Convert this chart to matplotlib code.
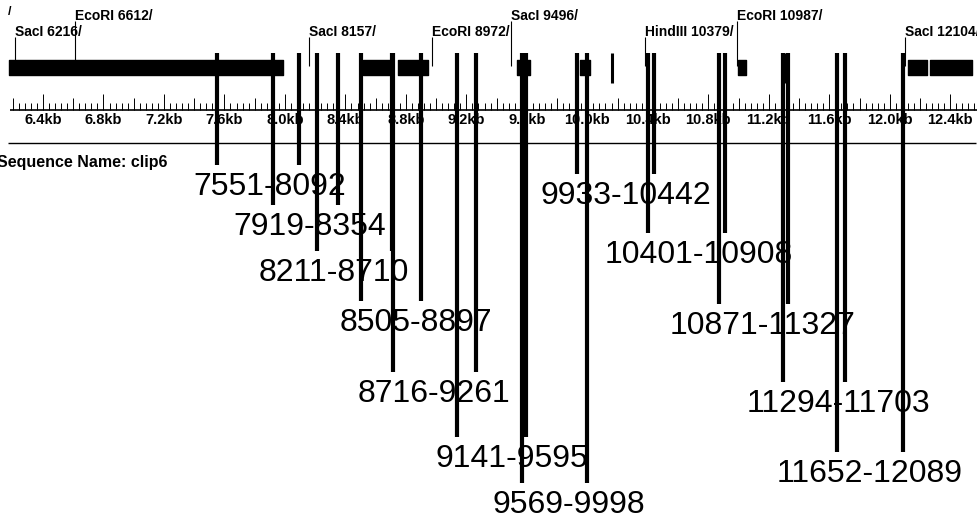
import matplotlib.pyplot as plt
import numpy as np

plt.rcParams['font.family'] = ['Liberation Sans', 'DejaVu Sans']

# fragments (bp) shown as start-end labels
frag_start = [7551, 7919, 8211, 8505, 8716, 9141, 9569, 9933, 10401, 10871, 11294, 11652]
frag_end = [8092, 8354, 8710, 8897, 9261, 9595, 9998, 10442, 10908, 11327, 11703, 12089]

# restriction sites
site_enzyme = ["SacI", "EcoRI", "SacI", "EcoRI", "SacI", "HindIII", "EcoRI", "SacI"]
site_pos = [6216, 6612, 8157, 8972, 9496, 10379, 10987, 12104]

# black feature blocks on the map track (bp)
feat_start = [6177, 8516, 8748, 9535, 9951, 10996, 12121, 12267]
feat_end = [7985, 8715, 8946, 9621, 10018, 11050, 12246, 12545]

# single marks on the map track (bp)
mark_pos = [10163, 11314]

# ruler labels (kb)
ruler_kb = [6.4, 6.8, 7.2, 7.6, 8.0, 8.4, 8.8, 9.2, 9.6, 10.0, 10.4, 10.8, 11.2, 11.6, 12.0, 12.4]
seq_name = "clip6"

# layout: where the fragment labels sit (left edge in bp, row in px from top)
label_left = [7392, 7657, 7829, 8364, 8483, 8993, 9370, 9687, 10117, 10547, 11056, 11254]
label_row = [187, 227, 273, 323, 394, 459, 505, 196, 255, 326, 404, 474]
site_row = [32, 16, 32, 32, 16, 32, 16, 32]

fig = plt.figure(figsize=(9.77, 5.29), dpi=100)
ax = fig.add_axes([0, 0, 1, 1])
ax.set_xlim(6115.6, 12577)
ax.set_ylim(529, 0)
ax.axis('off')

# map track
widths = [e - s for s, e in zip(feat_start, feat_end)]
ax.broken_barh(list(zip(feat_start, widths)), (60, 15), color='black')
ax.vlines(mark_pos, 53, 83, color='black', lw=2.2)

# restriction site labels
for name, pos, row in zip(site_enzyme, site_pos, site_row):
    ax.vlines(pos, row + 5, 66, color='black', lw=0.8)
    ax.text(pos, row, f"{name} {pos}/", fontsize=10, fontweight='bold',
            ha='left', va='center')
ax.text(6190, 12, "/", fontsize=9, fontweight='bold', ha='right', va='center')

# ruler
ax.hlines(110, 6180, 12577, color='black', lw=1.2)
ticks = np.arange(6200, 12577, 40)
heights = np.where(ticks % 400 == 0, 16, np.where(ticks % 200 == 0, 12, 7))
ax.vlines(ticks, 110 - heights, 110, color='black', lw=0.7)
for kb in ruler_kb:
    ax.text(kb * 1000, 120.5, f"{kb:.1f}kb", fontsize=10.5, fontweight='bold',
            ha='center', va='center')

# sequence separator
ax.hlines(143, 6170, 12570, color='black', lw=1)
ax.text(6098, 163, f"Sequence Name: {seq_name}", fontsize=11.5,
        fontweight='bold', ha='left', va='center')

# fragment lines and labels
for s, e, lx, ly in zip(frag_start, frag_end, label_left, label_row):
    ax.vlines([s, e], 53, ly - 22, color='black', lw=3)
    ax.text(lx, ly, f"{s}-{e}", fontsize=23, ha='left', va='center')

fig.savefig("out.png", dpi=100)
